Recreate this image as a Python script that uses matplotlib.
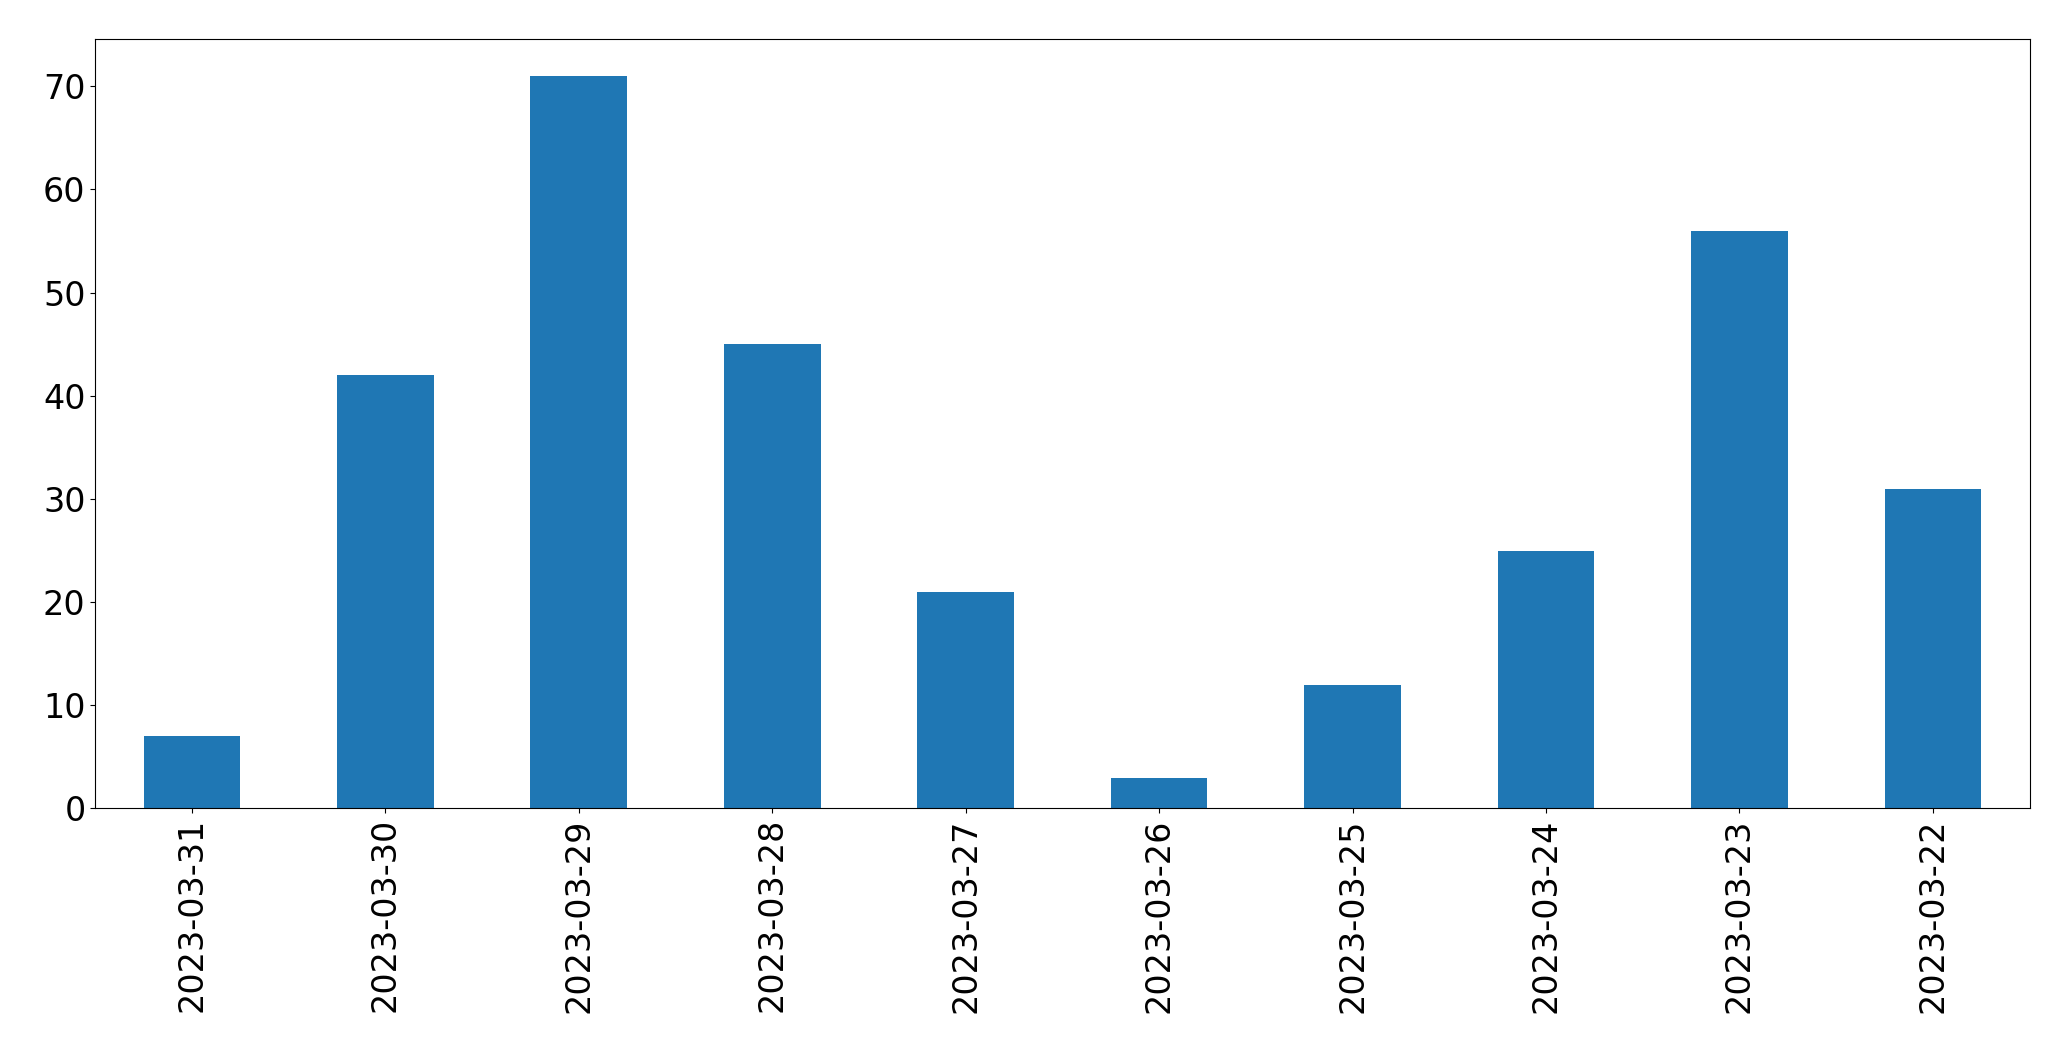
import matplotlib
matplotlib.use("Agg")
import matplotlib.pyplot as plt
import numpy as np

dates = ["2023-03-31", "2023-03-30", "2023-03-29", "2023-03-28", "2023-03-27",
         "2023-03-26", "2023-03-25", "2023-03-24", "2023-03-23", "2023-03-22"]
counts = [7, 42, 71, 45, 21, 3, 12, 25, 56, 31]

fig = plt.figure(figsize=(20.71, 10.61), dpi=100)
ax = fig.add_axes([0.046, 0.238, 0.934, 0.725])

x = np.arange(len(dates))
ax.bar(x, counts, width=0.5, color="#1f77b4")
ax.set_xlim(-0.5, len(dates) - 0.5)
ax.set_ylim(0, max(counts) * 1.05)
ax.set_xticks(x)
ax.set_xticklabels(dates, rotation=90)
ax.tick_params(labelsize=24)

fig.savefig("out.png", dpi=100)
